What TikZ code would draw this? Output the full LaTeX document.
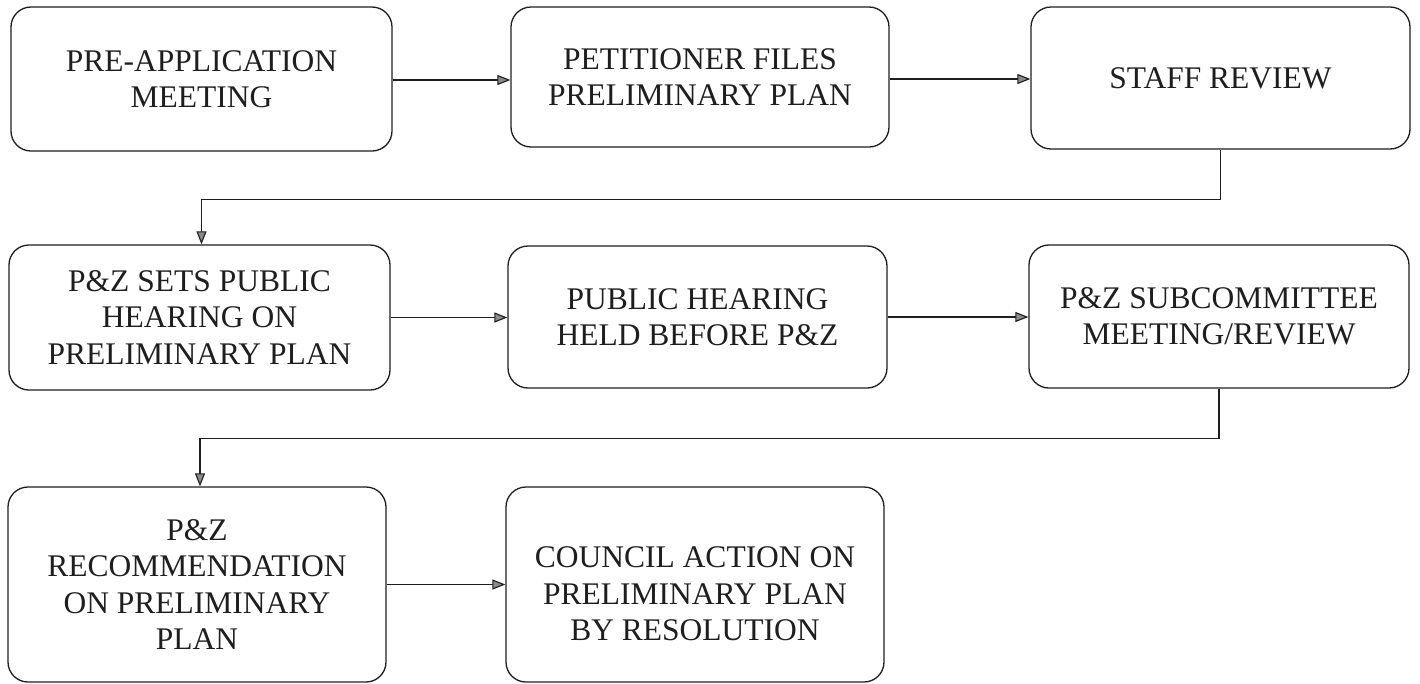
\documentclass[tikz,border=0pt]{standalone}
\usepackage{fontspec}
\setmainfont{Liberation Serif}
\usetikzlibrary{arrows.meta}
\definecolor{ink}{HTML}{1E1E1E}
\definecolor{tipfill}{HTML}{8A8A8A}
\begin{document}
\begin{tikzpicture}[x=1pt,y=-1pt,
  stepbox/.style={draw=ink, line width=1.3pt, rounded corners=20pt, align=center,
    text=ink, inner sep=0pt, font=\fontsize{31.5}{36.5}\selectfont},
  arr/.style={draw=ink, line width=1.1pt, -{Triangle[length=13pt,width=10pt,fill=tipfill]}}]
\useasboundingbox (0,0) rectangle (1420,683);
\node[stepbox, minimum width=381pt, minimum height=144pt] (b1) at (201.5,79) {PRE-APPLICATION\\MEETING};
\node[stepbox, minimum width=378pt, minimum height=140pt] (b2) at (700,77) {PETITIONER FILES\\PRELIMINARY PLAN};
\node[stepbox, minimum width=379pt, minimum height=142pt] (b3) at (1220.5,78) {STAFF REVIEW};
\node[stepbox, minimum width=381pt, minimum height=145pt] (b4) at (199.5,317.5) {P\&Z SETS PUBLIC\\HEARING ON\\PRELIMINARY PLAN};
\node[stepbox, minimum width=379pt, minimum height=142pt] (b5) at (697.5,317) {PUBLIC HEARING\\HELD BEFORE P\&Z};
\node[stepbox, minimum width=380pt, minimum height=143pt] (b6) at (1219,316.5) {P\&Z SUBCOMMITTEE\\MEETING/REVIEW};
\node[stepbox, minimum width=378pt, minimum height=195pt] (b7) at (197,584.5) {P\&Z\\RECOMMENDATION\\ON PRELIMINARY\\PLAN};
\node[stepbox, minimum width=378pt, minimum height=195pt] (b8) at (695,584.5) {\rule{0pt}{40pt}COUNCIL ACTION ON\\PRELIMINARY PLAN\\BY RESOLUTION};
\draw[arr] ([yshift=-1pt]b1.east) -- ([yshift=-1pt]b1.east -| b2.west);
\draw[arr] ([yshift=-2pt]b2.east) -- ([yshift=-2pt]b2.east -| b3.west);
\draw[arr] (b3.south) -- ++(0,50) -| ([xshift=2pt]b4.north);
\draw[arr] (b4.east) -- (b4.east -| b5.west);
\draw[arr] (b5.east) -- (b5.east -| b6.west);
\draw[arr] (b6.south) -- ++(0,50) -| ([xshift=3pt]b7.north);
\draw[arr] (b7.east) -- (b7.east -| b8.west);
\end{tikzpicture}
\end{document}
